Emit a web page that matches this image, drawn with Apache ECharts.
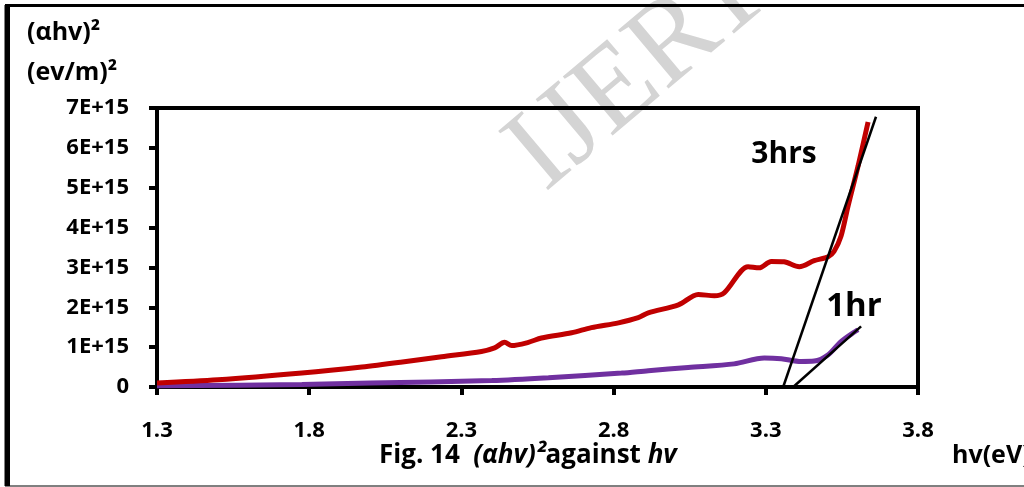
<!DOCTYPE html>
<html><head><meta charset="utf-8">
<script src="https://cdn.jsdelivr.net/npm/echarts@6/dist/echarts.min.js"></script>
<style>html,body{margin:0;padding:0;background:#fff;overflow:hidden}#c{width:1024px;height:487px}</style>
</head><body><div id="c"></div>
<script>
// 3hrs curve: hv (eV) and (alpha h v)^2 in units of 1E+15
const hv3 = [1.30, 1.50, 1.776, 1.973, 2.10, 2.235, 2.366, 2.409, 2.442, 2.465, 2.520, 2.563, 2.662, 2.727, 2.816, 2.881, 2.914, 3.013, 3.078, 3.131, 3.164, 3.242, 3.278, 3.318, 3.360, 3.410, 3.459, 3.505, 3.524, 3.547, 3.570, 3.603, 3.636];
const y3  = [0.10, 0.18, 0.35, 0.50, 0.62, 0.76, 0.89, 0.98, 1.12, 1.04, 1.12, 1.23, 1.36, 1.49, 1.61, 1.74, 1.86, 2.06, 2.32, 2.29, 2.37, 3.02, 2.99, 3.15, 3.14, 3.02, 3.17, 3.27, 3.40, 3.78, 4.53, 5.54, 6.65];
// 1hr curve
const hv1 = [1.30, 1.776, 2.00, 2.40, 2.586, 2.826, 2.914, 3.045, 3.196, 3.295, 3.351, 3.416, 3.459, 3.505, 3.547, 3.603];
const y1  = [0.03, 0.06, 0.10, 0.16, 0.23, 0.35, 0.41, 0.49, 0.58, 0.73, 0.71, 0.64, 0.65, 0.81, 1.14, 1.44];
// tangent lines
const tan3X = [3.357, 3.662], tan3Y = [0, 6.78];
const tan1X = [3.39, 3.613],  tan1Y = [0, 1.52];
// axis ticks
const xTickLabels = ['1.3', '1.8', '2.3', '2.8', '3.3', '3.8'];
const yTickLabels = ['0', '1E+15', '2E+15', '3E+15', '4E+15', '5E+15', '6E+15', '7E+15'];

const X0 = 1.3;
const pairs = (xs, ys) => xs.map((x, i) => [x - X0, ys[i]]);
const FONT = '"Open Sans", "Noto Sans", sans-serif';

const chart = echarts.init(document.getElementById('c'), null, {renderer: 'canvas'});
chart.setOption({
  animation: false,
  backgroundColor: '#fff',
  grid: {left: 157, right: 106, top: 108, bottom: 100, show: true, borderColor: '#000', borderWidth: 4},
  xAxis: {
    type: 'value', min: 0, max: 2.5, interval: 0.5,
    splitLine: {show: false},
    axisLine: {show: true, lineStyle: {color: '#000', width: 4}},
    axisTick: {show: true, inside: false, length: 8, lineStyle: {color: '#000', width: 4}},
    axisLabel: {margin: 33, color: '#000', fontFamily: FONT, fontWeight: 'bold', fontSize: 22,
      formatter: v => xTickLabels[Math.round(v / 0.5)] || ''}
  },
  yAxis: {
    type: 'value', min: 0, max: 7, interval: 1,
    splitLine: {show: false},
    axisLine: {show: true, lineStyle: {color: '#000', width: 4}},
    axisTick: {show: true, inside: false, length: 8, lineStyle: {color: '#000', width: 4}},
    axisLabel: {margin: 28, color: '#000', fontFamily: FONT, fontWeight: 'bold', fontSize: 22,
      formatter: v => yTickLabels[Math.round(v)] || ''}
  },
  series: [
    {type: 'line', data: pairs(hv1, y1), symbol: 'none', smooth: 0.3, lineStyle: {color: '#7030A0', width: 5}, z: 3},
    {type: 'line', data: pairs(hv3, y3), symbol: 'none', smooth: 0.3, lineStyle: {color: '#C00000', width: 5}, z: 4},
    {type: 'line', data: pairs(tan3X, tan3Y), symbol: 'none', lineStyle: {color: '#000', width: 2.5}, z: 5},
    {type: 'line', data: pairs(tan1X, tan1Y), symbol: 'none', lineStyle: {color: '#000', width: 2.5}, z: 5}
  ],
  graphic: [
    {type: 'text', x: 640, y: 72, rotation: 0.70, z: -10, silent: true,
      style: {text: 'IJERT', x: 0, y: 0, align: 'center', verticalAlign: 'middle',
        font: '118px "Liberation Serif", serif', fill: '#d4d4d4'}},
    {type: 'rect', shape: {x: 5, y: 5, width: 1030, height: 481}, z: 20, silent: true,
      style: {fill: 'none', stroke: '#000', lineWidth: 1}},
    {type: 'rect', shape: {x: 5, y: 4, width: 5, height: 482}, z: 20, silent: true, style: {fill: '#000'}},
    {type: 'rect', shape: {x: 5, y: 4, width: 1020, height: 3}, z: 20, silent: true, style: {fill: '#000'}},
    {type: 'text', x: 27, y: 33, style: {text: '(αhv)²', verticalAlign: 'middle', font: 'bold 25px ' + FONT, fill: '#000'}},
    {type: 'text', x: 27, y: 73, style: {text: '(ev/m)²', verticalAlign: 'middle', font: 'bold 25px ' + FONT, fill: '#000'}},
    {type: 'text', x: 784, y: 154, style: {text: '3hrs', align: 'center', verticalAlign: 'middle', font: 'bold 30px ' + FONT, fill: '#000'}},
    {type: 'text', x: 854, y: 307, style: {text: '1hr', align: 'center', verticalAlign: 'middle', font: 'bold 33px ' + FONT, fill: '#000'}},
    {type: 'text', x: 379, y: 456, style: {
      text: '{n|Fig. 14  }{i|(αhv)²}{n|against }{i|hv}', verticalAlign: 'middle',
      rich: {
        n: {fontFamily: FONT, fontWeight: 'bold', fontSize: 26, fill: '#000'},
        i: {fontFamily: FONT, fontWeight: 'bold', fontStyle: 'italic', fontSize: 26, fill: '#000'}
      }}},
    {type: 'text', x: 952, y: 456, style: {text: 'hv(eV)', verticalAlign: 'middle', font: 'bold 25px ' + FONT, fill: '#000'}}
  ]
});
</script>
</body></html>
